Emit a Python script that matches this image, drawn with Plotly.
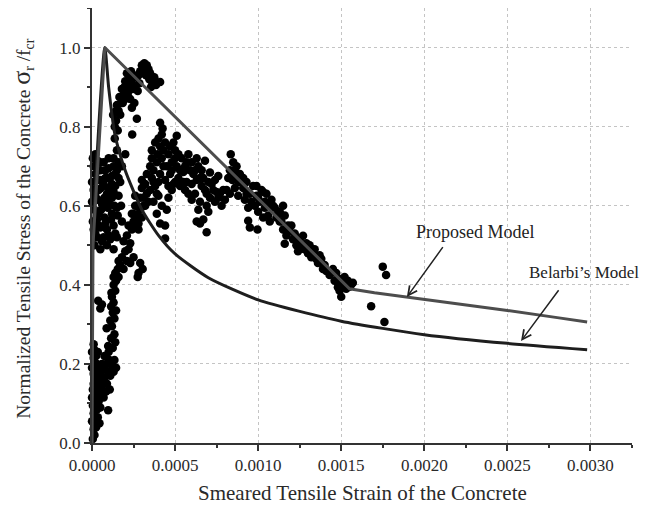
import plotly.graph_objects as go

# ---------------- data ----------------
# model curves: strain, normalized stress
proposed_strain = [0.0, 0.000006, 0.000077, 0.00155, 0.0017, 0.0019, 0.0022, 0.0025, 0.0028, 0.00298]
proposed_stress = [0.0, 0.50, 1.0, 0.39, 0.38, 0.369, 0.352, 0.335, 0.317, 0.306]

belarbi_strain = [0.0, 0.000004, 0.000077, 0.0001, 0.000138, 0.0002, 0.0003, 0.0004, 0.0005,
                  0.0007, 0.001, 0.0015, 0.002, 0.0025, 0.00298]
belarbi_stress = [0.0, 0.50, 1.0, 0.90, 0.78, 0.689, 0.59, 0.525, 0.478,
                  0.418, 0.362, 0.308, 0.274, 0.252, 0.236]

# test points: (strain, normalized stress)
test_points = [
    # near-zero column, low stress
    (0.05e-4, 0.01), (0.15e-4, 0.02), (0.1e-4, 0.035), (0.25e-4, 0.04), (0.0, 0.055), (0.2e-4, 0.06),
    (0.35e-4, 0.065), (0.1e-4, 0.075), (0.3e-4, 0.085), (0.05e-4, 0.095), (0.2e-4, 0.10), (0.4e-4, 0.105),
    (0.0, 0.115), (0.15e-4, 0.12), (0.3e-4, 0.125), (0.45e-4, 0.13), (0.05e-4, 0.135), (0.25e-4, 0.14),
    (0.1e-4, 0.15), (0.4e-4, 0.15), (0.2e-4, 0.16), (-0.05e-4, 0.165), (0.35e-4, 0.17), (0.1e-4, 0.175),
    (0.25e-4, 0.18), (0.5e-4, 0.18), (0.0, 0.19), (0.15e-4, 0.195), (0.4e-4, 0.195), (0.3e-4, 0.20),
    (-0.05e-4, 0.21), (0.1e-4, 0.215), (0.25e-4, 0.22), (0.0, 0.23), (0.15e-4, 0.235), (-0.05e-4, 0.245),
    (0.1e-4, 0.25), (0.35e-4, 0.23), (0.55e-4, 0.12), (0.6e-4, 0.16), (0.5e-4, 0.09), (0.45e-4, 0.05),
    (0.6e-4, 0.2),
    # rising lower arm
    (0.97e-4, 0.083), (0.7e-4, 0.115), (0.85e-4, 0.13), (1.07e-4, 0.135), (0.6e-4, 0.145), (0.9e-4, 0.15),
    (0.75e-4, 0.165), (1.1e-4, 0.17), (0.95e-4, 0.18), (1.3e-4, 0.18), (0.7e-4, 0.19), (1.2e-4, 0.195),
    (1.45e-4, 0.19), (0.85e-4, 0.20), (1.05e-4, 0.21), (1.35e-4, 0.21), (0.75e-4, 0.22), (1.0e-4, 0.23),
    (1.25e-4, 0.24), (0.97e-4, 0.245), (1.4e-4, 0.255), (1.15e-4, 0.265), (1.35e-4, 0.275), (0.88e-4, 0.29),
    (1.2e-4, 0.295), (1.1e-4, 0.31), (1.35e-4, 0.315), (1.25e-4, 0.33), (1.45e-4, 0.335), (0.5e-4, 0.34),
    (0.37e-4, 0.36), (0.6e-4, 0.35), (1.15e-4, 0.345), (1.3e-4, 0.355), (1.2e-4, 0.37), (1.17e-4, 0.38),
    (1.4e-4, 0.385), (1.3e-4, 0.40), (1.45e-4, 0.41), (1.6e-4, 0.42), (1.4e-4, 0.43), (1.55e-4, 0.44),
    (1.7e-4, 0.45), (1.9e-4, 0.44), (2.1e-4, 0.46), (2.3e-4, 0.455), (2.5e-4, 0.47), (1.8e-4, 0.47),
    (2.0e-4, 0.485), (2.2e-4, 0.49), (2.8e-4, 0.43), (2.9e-4, 0.455), (3.05e-4, 0.44), (2.75e-4, 0.42),
    (1.6e-4, 0.46), (1.3e-4, 0.42),
    # arm between 0.48 and 0.62
    (2.3e-4, 0.505), (1.9e-4, 0.51), (2.1e-4, 0.525), (2.4e-4, 0.54), (2.6e-4, 0.545), (2.8e-4, 0.555),
    (2.5e-4, 0.56), (2.2e-4, 0.55), (2.7e-4, 0.575), (2.4e-4, 0.58), (3.0e-4, 0.57), (2.9e-4, 0.59),
    (3.2e-4, 0.60), (2.6e-4, 0.60), (3.1e-4, 0.62),
    # near-zero column, upper part
    (0.15e-4, 0.50), (0.5e-4, 0.49), (0.9e-4, 0.50), (1.3e-4, 0.49), (0.3e-4, 0.52), (0.7e-4, 0.52),
    (1.1e-4, 0.515), (1.5e-4, 0.52), (0.1e-4, 0.54), (0.5e-4, 0.545), (0.9e-4, 0.54), (1.3e-4, 0.55),
    (0.3e-4, 0.565), (0.75e-4, 0.57), (1.15e-4, 0.565), (1.55e-4, 0.575), (0.15e-4, 0.59), (0.55e-4, 0.59),
    (0.95e-4, 0.595), (1.35e-4, 0.60), (0.35e-4, 0.615), (0.75e-4, 0.62), (1.2e-4, 0.62), (1.6e-4, 0.625),
    (0.1e-4, 0.64), (0.55e-4, 0.645), (1.0e-4, 0.645), (1.4e-4, 0.65), (0.3e-4, 0.665), (0.8e-4, 0.67),
    (1.2e-4, 0.675), (0.5e-4, 0.69), (1.0e-4, 0.695), (1.5e-4, 0.69), (0.1e-4, 0.70), (0.3e-4, 0.715),
    (0.7e-4, 0.71), (1.3e-4, 0.72), (1.5e-4, 0.74), (2.0e-4, 0.73), (1.8e-4, 0.70), (0.05e-4, 0.72),
    (0.2e-4, 0.68), (1.7e-4, 0.66), (1.75e-4, 0.60), (1.8e-4, 0.56), (0.0, 0.61), (0.05e-4, 0.56),
    (0.0, 0.66),
    (0.2e-4, 0.53), (0.6e-4, 0.51), (1.0e-4, 0.525), (1.4e-4, 0.53), (0.4e-4, 0.55), (0.8e-4, 0.555),
    (1.2e-4, 0.58), (0.4e-4, 0.58), (1.5e-4, 0.595), (0.6e-4, 0.605), (1.0e-4, 0.61), (0.2e-4, 0.625),
    (0.9e-4, 0.63), (1.3e-4, 0.635), (0.4e-4, 0.64), (0.7e-4, 0.655), (1.2e-4, 0.655), (1.6e-4, 0.67),
    (0.5e-4, 0.665), (1.0e-4, 0.67), (0.2e-4, 0.70), (0.8e-4, 0.69), (1.3e-4, 0.70), (0.5e-4, 0.71),
    (1.0e-4, 0.72), (0.2e-4, 0.73), (1.4e-4, 0.68), (1.6e-4, 0.71),
    # upper arm near the peak
    (1.27e-4, 0.83), (1.37e-4, 0.80), (1.37e-4, 0.77), (1.45e-4, 0.815), (1.6e-4, 0.84), (1.5e-4, 0.855),
    (1.75e-4, 0.86), (1.65e-4, 0.875), (1.9e-4, 0.88), (1.8e-4, 0.895), (2.05e-4, 0.90), (2.2e-4, 0.89),
    (2.0e-4, 0.915), (2.25e-4, 0.92), (2.4e-4, 0.91), (2.1e-4, 0.935), (2.35e-4, 0.94), (2.5e-4, 0.93),
    (2.6e-4, 0.90), (2.75e-4, 0.89), (2.85e-4, 0.91), (2.4e-4, 0.848), (2.55e-4, 0.86), (2.7e-4, 0.82),
    (2.42e-4, 0.78), (2.9e-4, 0.94), (3.0e-4, 0.955), (3.15e-4, 0.96), (3.3e-4, 0.955), (3.1e-4, 0.935),
    (3.25e-4, 0.93), (3.4e-4, 0.945), (3.45e-4, 0.92), (3.6e-4, 0.915), (3.75e-4, 0.925), (3.85e-4, 0.905),
    (4.1e-4, 0.913), (3.55e-4, 0.90), (2.0e-4, 0.87), (2.3e-4, 0.87), (1.55e-4, 0.79),
    (1.45e-4, 0.84), (1.7e-4, 0.83), (1.85e-4, 0.86), (2.15e-4, 0.88), (2.3e-4, 0.905), (2.45e-4, 0.895),
    (2.65e-4, 0.925), (2.8e-4, 0.93), (3.2e-4, 0.945), (3.5e-4, 0.935), (3.7e-4, 0.905), (1.95e-4, 0.90),
    # middle cluster
    (2.5e-4, 0.58), (2.7e-4, 0.60), (2.9e-4, 0.62), (3.1e-4, 0.60), (3.3e-4, 0.63), (2.6e-4, 0.625),
    (3.0e-4, 0.645), (2.65e-4, 0.56), (2.8e-4, 0.54),
    (3.0e-4, 0.665), (3.2e-4, 0.655), (3.4e-4, 0.61), (3.5e-4, 0.64), (3.6e-4, 0.67), (3.8e-4, 0.65),
    (3.3e-4, 0.68), (3.7e-4, 0.61),
    (3.5e-4, 0.70), (3.7e-4, 0.69), (3.9e-4, 0.71), (4.1e-4, 0.68), (4.3e-4, 0.70), (4.0e-4, 0.66),
    (4.4e-4, 0.665), (3.6e-4, 0.72),
    (3.95e-4, 0.73), (4.1e-4, 0.75), (4.3e-4, 0.74), (4.0e-4, 0.77), (4.2e-4, 0.78), (4.4e-4, 0.76),
    (4.1e-4, 0.81), (4.25e-4, 0.795),
    (4.6e-4, 0.73), (4.8e-4, 0.71), (5.0e-4, 0.74), (4.7e-4, 0.68), (5.1e-4, 0.70), (5.2e-4, 0.67),
    (4.9e-4, 0.655), (4.6e-4, 0.65), (5.1e-4, 0.777), (4.9e-4, 0.76),
    (4.1e-4, 0.555), (4.4e-4, 0.55), (4.4e-4, 0.517), (4.5e-4, 0.59), (4.2e-4, 0.60), (3.9e-4, 0.58),
    (4.6e-4, 0.62), (4.0e-4, 0.625),
    (5.4e-4, 0.72), (5.6e-4, 0.70), (5.8e-4, 0.73), (6.0e-4, 0.71), (6.2e-4, 0.69), (6.4e-4, 0.70),
    (5.5e-4, 0.685), (5.9e-4, 0.69),
    (5.7e-4, 0.66), (6.0e-4, 0.655), (6.3e-4, 0.665), (5.4e-4, 0.655), (5.8e-4, 0.63), (6.0e-4, 0.615),
    (5.6e-4, 0.64),
    (6.2e-4, 0.63), (6.5e-4, 0.61), (6.8e-4, 0.64), (7.1e-4, 0.62), (6.4e-4, 0.59), (6.9e-4, 0.60),
    (7.2e-4, 0.655), (6.6e-4, 0.65), (7.0e-4, 0.585), (6.3e-4, 0.56),
    (6.7e-4, 0.565), (6.9e-4, 0.533), (6.5e-4, 0.555),
    (6.8e-4, 0.714), (7.1e-4, 0.684), (7.4e-4, 0.665), (7.6e-4, 0.675),
    (7.4e-4, 0.61), (7.7e-4, 0.63), (8.0e-4, 0.615), (7.8e-4, 0.60), (7.5e-4, 0.635), (8.1e-4, 0.64),
    (8.35e-4, 0.73), (8.5e-4, 0.71), (8.3e-4, 0.69), (8.7e-4, 0.70), (8.45e-4, 0.665), (8.9e-4, 0.68),
    (8.6e-4, 0.645), (8.3e-4, 0.63), (8.8e-4, 0.625), (9.0e-4, 0.66), (8.5e-4, 0.68),
    (9.1e-4, 0.645), (9.3e-4, 0.66), (9.5e-4, 0.63), (9.7e-4, 0.65), (9.9e-4, 0.625), (9.2e-4, 0.615),
    (9.6e-4, 0.61),
    (9.4e-4, 0.595), (9.8e-4, 0.60), (10.1e-4, 0.61), (10.3e-4, 0.635), (10.0e-4, 0.585),
    (10.5e-4, 0.63), (10.6e-4, 0.60), (10.8e-4, 0.615), (10.4e-4, 0.595),
    (9.4e-4, 0.562), (9.5e-4, 0.545), (9.96e-4, 0.54),
    (10.3e-4, 0.57), (10.6e-4, 0.575), (10.7e-4, 0.56),
    (11.0e-4, 0.595), (11.3e-4, 0.585), (11.5e-4, 0.60), (11.2e-4, 0.58),
    (3.6e-4, 0.74), (3.8e-4, 0.76), (3.7e-4, 0.66), (3.9e-4, 0.63), (4.2e-4, 0.72), (4.5e-4, 0.70),
    (4.7e-4, 0.75), (4.8e-4, 0.69), (5.0e-4, 0.72), (5.2e-4, 0.73), (5.3e-4, 0.69), (5.0e-4, 0.66),
    (4.8e-4, 0.64), (5.3e-4, 0.65), (5.5e-4, 0.66), (5.7e-4, 0.71), (6.1e-4, 0.68), (6.3e-4, 0.72),
    (6.6e-4, 0.69), (6.7e-4, 0.67), (6.5e-4, 0.67), (7.0e-4, 0.66), (7.3e-4, 0.64), (7.6e-4, 0.62),
    (7.9e-4, 0.64), (6.9e-4, 0.63), (8.2e-4, 0.67), (8.6e-4, 0.69), (8.8e-4, 0.66), (9.1e-4, 0.67),
    (9.3e-4, 0.63), (9.9e-4, 0.65), (10.2e-4, 0.64), (10.0e-4, 0.62), (10.4e-4, 0.61), (10.9e-4, 0.60),
    (11.1e-4, 0.57), (11.4e-4, 0.56), (11.6e-4, 0.575),
    # descending tail
    (11.5e-4, 0.54), (11.7e-4, 0.525), (11.9e-4, 0.535), (11.6e-4, 0.504), (11.8e-4, 0.55), (11.3e-4, 0.56),
    (12.1e-4, 0.515), (12.3e-4, 0.50), (12.5e-4, 0.51), (12.7e-4, 0.524), (12.4e-4, 0.485), (12.8e-4, 0.49),
    (12.2e-4, 0.53), (12.0e-4, 0.55), (12.3e-4, 0.52), (12.6e-4, 0.495), (12.9e-4, 0.505),
    (13.0e-4, 0.48), (13.2e-4, 0.47), (13.4e-4, 0.49), (13.1e-4, 0.50), (13.5e-4, 0.465), (13.3e-4, 0.48),
    (13.6e-4, 0.455), (13.8e-4, 0.466), (13.9e-4, 0.44), (13.7e-4, 0.475), (13.6e-4, 0.47), (14.0e-4, 0.45),
    (14.1e-4, 0.435), (14.3e-4, 0.425), (14.5e-4, 0.44), (14.7e-4, 0.43), (14.4e-4, 0.43),
    (14.6e-4, 0.41), (14.8e-4, 0.394), (15.0e-4, 0.405), (15.2e-4, 0.42), (15.4e-4, 0.41), (15.6e-4, 0.40),
    (15.0e-4, 0.37), (15.3e-4, 0.39), (14.9e-4, 0.385), (14.9e-4, 0.415), (15.1e-4, 0.395), (15.5e-4, 0.395),
    (15.7e-4, 0.405),
    # isolated points
    (17.5e-4, 0.446), (17.7e-4, 0.425), (16.8e-4, 0.346), (17.6e-4, 0.306),
]
test_strain = [p[0] for p in test_points]
test_stress = [p[1] for p in test_points]

x_ticks = [0.0, 0.0005, 0.0010, 0.0015, 0.0020, 0.0025, 0.0030]
x_tick_labels = ["0.0000", "0.0005", "0.0010", "0.0015", "0.0020", "0.0025", "0.0030"]
y_ticks = [0.0, 0.2, 0.4, 0.6, 0.8, 1.0]
y_tick_labels = ["0.0", "0.2", "0.4", "0.6", "0.8", "1.0"]

# ---------------- figure ----------------
FONT = "Liberation Serif, Times New Roman, serif"
TXT = "#2a2a2a"
fig = go.Figure()

fig.add_trace(go.Scatter(
    x=test_strain, y=test_stress, mode="markers",
    marker=dict(size=8.5, color="black", line=dict(width=0)),
    cliponaxis=False, showlegend=False, name="Test data"))

fig.add_trace(go.Scatter(
    x=belarbi_strain, y=belarbi_stress, mode="lines",
    line=dict(color="#1e1e1e", width=3, shape="spline", smoothing=0.6),
    showlegend=False, name="Belarbi's Model"))

fig.add_trace(go.Scatter(
    x=proposed_strain, y=proposed_stress, mode="lines",
    line=dict(color="#4d4d4d", width=3), showlegend=False, name="Proposed Model"))

axis_common = dict(
    showline=True, linewidth=2, linecolor="#333333",
    ticks="outside", tickwidth=2, tickcolor="#333333", ticklen=6,
    showgrid=True, gridcolor="#c4c4c4", gridwidth=1, griddash="dot",
    zeroline=False, mirror=False, automargin=False,
    tickfont=dict(family=FONT, size=17, color=TXT),
)

fig.update_xaxes(
    range=[0, 0.00325], tickvals=x_ticks, ticktext=x_tick_labels,
    minor=dict(dtick=0.00025, ticks="outside", ticklen=3, tickwidth=2, tickcolor="#333333", showgrid=False),
    **axis_common)

fig.update_yaxes(
    range=[0, 1.1], tickvals=y_ticks, ticktext=y_tick_labels,
    minor=dict(dtick=0.1, ticks="outside", ticklen=3, tickwidth=2, tickcolor="#333333", showgrid=False),
    **axis_common)

# axis titles
fig.add_annotation(x=0.5, y=-0.115, xref="paper", yref="paper", showarrow=False,
                   text="Smeared Tensile Strain of the Concrete", yanchor="middle",
                   font=dict(family=FONT, size=21, color=TXT))
fig.add_annotation(x=-0.13, y=0.492, xref="paper", yref="paper", showarrow=False, textangle=-90,
                   text="Normalized Tensile Stress of the Concrete <span style='font-size:26px'>σ</span><sub>r</sub> /f<sub>cr</sub>",
                   xanchor="center", yanchor="middle",
                   font=dict(family=FONT, size=19.5, color=TXT))

# model labels with arrows
fig.add_annotation(x=0.001895, y=0.369, ax=0.002118, ay=0.499, xref="x", yref="y",
                   axref="x", ayref="y", text="", showarrow=True,
                   arrowhead=5, arrowsize=1.2, arrowwidth=1.5, arrowcolor="#222222")
fig.add_annotation(x=0.002582, y=0.258, ax=0.002815, ay=0.39, xref="x", yref="y",
                   axref="x", ayref="y", text="", showarrow=True,
                   arrowhead=5, arrowsize=1.2, arrowwidth=1.5, arrowcolor="#222222")
fig.add_annotation(x=0.00231, y=0.533, xref="x", yref="y", text="Proposed Model",
                   showarrow=False, font=dict(family=FONT, size=18, color="#222222"))
fig.add_annotation(x=0.00296, y=0.432, xref="x", yref="y", text="Belarbi’s Model",
                   showarrow=False, font=dict(family=FONT, size=17, color="#222222"))

fig.update_layout(
    width=648, height=511,
    margin=dict(l=84, r=24, t=0, b=76),
    paper_bgcolor="white", plot_bgcolor="white",
    font=dict(family=FONT, color=TXT),
)

fig.write_html("out.html")
